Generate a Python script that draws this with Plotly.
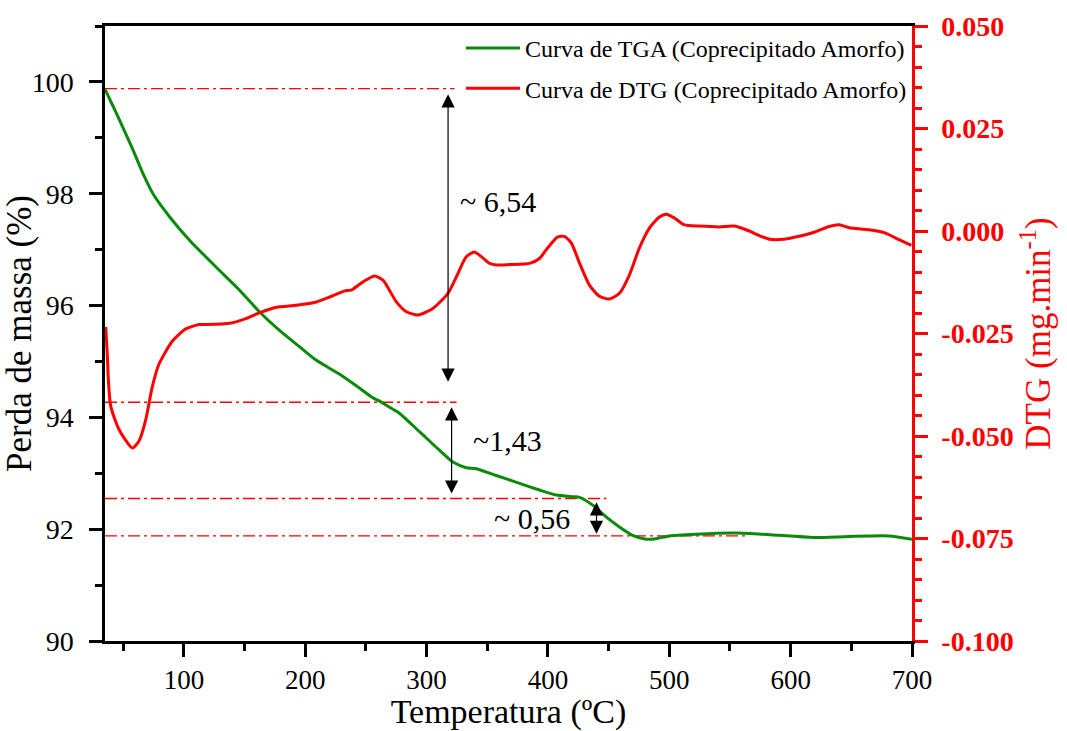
import plotly.graph_objects as go

# TGA curve: temperature (ºC) vs mass (%)
tga_temp = [35, 45, 52.8, 58.3, 66.5, 74.8, 88.5, 105, 126.9, 146.1, 162.6, 179, 195.5,
            209.2, 228.4, 244.9, 255, 261.3, 268, 277.8, 294.3, 310.7, 321.7, 332.7, 340.9,
            357.4, 376.6, 393, 406.8, 420.4, 426, 436.9, 447.9, 458.9, 469.8, 480.8,
            489, 500, 521.9, 554.9, 590.5, 620, 648, 681, 700]
tga_mass = [99.87, 99.41, 99.04, 98.77, 98.35, 97.99, 97.58, 97.16, 96.68, 96.27, 95.88,
            95.55, 95.26, 95.02, 94.77, 94.52, 94.36, 94.29, 94.2, 94.07, 93.74, 93.41,
            93.20, 93.10, 93.08, 92.96, 92.82, 92.70, 92.61, 92.58, 92.57, 92.43, 92.22,
            92.04, 91.89, 91.82, 91.83, 91.88, 91.91, 91.93, 91.89, 91.85, 91.87, 91.88,
            91.82]

# DTG curve: temperature (ºC) vs mg/min
dtg_temp = [35.6, 36.9, 37.7, 39.7, 46.5, 57.5, 63.0, 68.5, 73.9, 79.4, 90.4, 101.4,
            112.4, 118.7, 137.9, 151.6, 162.6, 176.3, 192.8, 209.2, 220.2, 232.5, 238.0,
            247.6, 257.2, 264.1, 275.1, 283.3, 292.9, 305.2, 317.6, 324.5, 332.7, 339.5,
            352, 357.6, 368, 384.8, 393, 399.6, 407.8, 413.6, 419.4, 426, 434.2, 442.4,
            450.6, 458.9, 467, 475.3, 483.6, 491.8, 497.6, 504.1, 512.4, 524.7, 541.2,
            553.5, 565.9, 574, 582.3, 594.7, 607, 619.4, 631.7, 640, 648.2, 664.6, 677,
            689.3, 699.5]
dtg_vals = [-0.0234, -0.0302, -0.0359, -0.0427, -0.0484, -0.0529, -0.0512, -0.0461,
            -0.0381, -0.0325, -0.0269, -0.0239, -0.0228, -0.0228, -0.0225, -0.0213,
            -0.0199, -0.0186, -0.0181, -0.0173, -0.0161, -0.0146, -0.0144, -0.0124,
            -0.0110, -0.0120, -0.0173, -0.0197, -0.0205, -0.0189, -0.0152, -0.0112,
            -0.0063, -0.0051, -0.0079, -0.0083, -0.0082, -0.0079, -0.0067, -0.0042,
            -0.0015, -0.0013, -0.0030, -0.0078, -0.0132, -0.0159, -0.0166, -0.0152,
            -0.0108, -0.0042, 0.0007, 0.0034, 0.0041, 0.0032, 0.0015, 0.0012, 0.0010,
            0.0012, 0.0, -0.0011, -0.0020, -0.0020, -0.0013, -0.0003, 0.0011, 0.0015,
            0.0008, 0.0003, -0.0004, -0.0021, -0.0035]

# Reference levels (mass %) and where each guide line ends (ºC)
level_mass = [99.88, 94.27, 92.55, 91.88]
level_end_temp = [323, 324.7, 448.2, 563.4]

# Mass-loss steps: arrow temperature, top and bottom mass, label
step_temp = [317.7, 320.6, 440]
step_top = [99.78, 94.18, 92.48]
step_bottom = [94.61, 92.61, 91.89]
step_labels = ["~ 6,54", "~1,43", "~ 0,56"]
step_label_pos = [(325.5, 97.87), (337, 93.59), (354.3, 92.2)]

x_ticks = [100, 200, 300, 400, 500, 600, 700]
y_ticks = [90, 92, 94, 96, 98, 100]
y2_ticks = [-0.100, -0.075, -0.050, -0.025, 0.000, 0.025, 0.050]
y2_labels = ["-0.100", "-0.075", "-0.050", "-0.025", "0.000", "0.025", "0.050"]

SERIF = "Liberation Serif, Times New Roman, serif"
GREEN = "#0a8a0a"
RED = "#ff0000"

fig = go.Figure()
fig.add_trace(go.Scatter(
    x=tga_temp, y=tga_mass, mode="lines", yaxis="y",
    line=dict(color=GREEN, width=3, shape="spline", smoothing=0.6),
    name="Curva de TGA (Coprecipitado Amorfo)", legendgroup="tga"))
fig.add_trace(go.Scatter(
    x=dtg_temp, y=dtg_vals, mode="lines", yaxis="y2",
    line=dict(color=RED, width=3, shape="spline", smoothing=0.6),
    name="Curva de DTG (Coprecipitado Amorfo)", legendgroup="dtg"))

shapes = []
for m, xe in zip(level_mass, level_end_temp):
    shapes.append(dict(type="line", xref="x", yref="y", x0=35, x1=xe, y0=m, y1=m,
                       line=dict(color=RED, width=1.4, dash="12px,4px,3px,4px"),
                       layer="below"))

annotations = []
for t, top, bot in zip(step_temp, step_top, step_bottom):
    annotations.append(dict(x=t, y=top, ax=t, ay=bot, xref="x", yref="y",
                            axref="x", ayref="y", text="", showarrow=True,
                            arrowhead=2, arrowside="end+start", arrowsize=2.2,
                            arrowwidth=1.2, arrowcolor="black"))
for txt, (tx, ty) in zip(step_labels, step_label_pos):
    annotations.append(dict(x=tx, y=ty, xref="x", yref="y", text=txt, showarrow=False,
                            xanchor="left", yanchor="middle",
                            font=dict(family=SERIF, size=30, color="black")))

fig.update_layout(
    width=1067, height=731,
    margin=dict(l=105, r=155, t=26, b=90),
    paper_bgcolor="white", plot_bgcolor="white",
    font=dict(family=SERIF, color="black"),
    showlegend=True,
    legend=dict(x=1.0, y=1.0, xanchor="right", yanchor="top",
                bgcolor="rgba(0,0,0,0)", font=dict(family=SERIF, size=24),
                tracegroupgap=6, itemwidth=54),
    xaxis=dict(range=[35, 700], tickvals=x_ticks, showgrid=False, zeroline=False,
               showline=True, linecolor="black", linewidth=2.5, mirror=True,
               ticks="outside", ticklen=13, tickwidth=2.5, tickcolor="black",
               minor=dict(dtick=50, tick0=0, ticks="outside", ticklen=7,
                          tickwidth=2.5, tickcolor="black"),
               tickfont=dict(family=SERIF, size=27), ticklabelstandoff=0,
               automargin=False,
               title=dict(text="Temperatura (ºC)", font=dict(family=SERIF, size=34),
                          standoff=0)),
    yaxis=dict(range=[90, 101], tickvals=y_ticks, showgrid=False, zeroline=False,
               showline=True, linecolor="black", linewidth=2.5,
               ticks="outside", ticklen=13, tickwidth=2.5, tickcolor="black",
               minor=dict(dtick=1, tick0=0, ticks="outside", ticklen=7,
                          tickwidth=2.5, tickcolor="black"),
               tickfont=dict(family=SERIF, size=28), ticklabelstandoff=10,
               automargin=False,
               title=dict(text="Perda de massa (%)", font=dict(family=SERIF, size=35),
                          standoff=6)),
    yaxis2=dict(range=[-0.100, 0.050], tickvals=y2_ticks, ticktext=y2_labels,
                overlaying="y", side="right",
                showgrid=False, zeroline=False,
                showline=True, linecolor=RED, linewidth=2.5,
                ticks="outside", ticklen=13, tickwidth=2.5, tickcolor=RED,
                minor=dict(dtick=0.005, tick0=0, ticks="outside", ticklen=7,
                           tickwidth=2.5, tickcolor=RED),
                tickfont=dict(family=SERIF, size=28, color=RED, weight="bold"),
                ticklabelstandoff=8, automargin=False,
                title=dict(text="DTG (mg.min<sup>-1</sup>)",
                           font=dict(family=SERIF, size=35, color=RED), standoff=6)),
    shapes=shapes,
    annotations=annotations,
)

fig.write_html("out.html")
